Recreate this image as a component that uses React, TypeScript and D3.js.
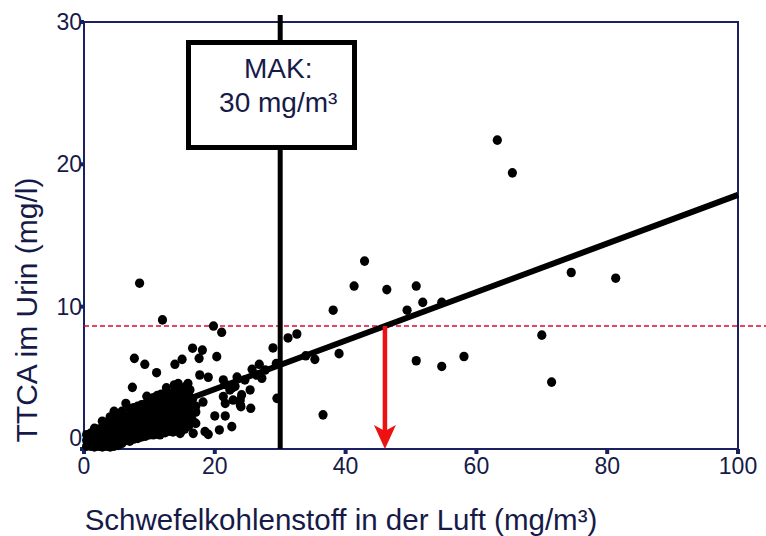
import React from "react";
import * as d3 from "d3";

// Axis ticks
const xTicks = [0, 20, 40, 60, 80, 100];
const yTicks = [0, 10, 20, 30];

// Linear fit of TTCA in urine against CS2 in air
const fitIntercept = 0.79;
const fitSlope = 0.1706;

// Occupational exposure limit (MAK) in mg/m³
const makValue = 30;

// TTCA level reached by the fit line (red reference)
const ttcaReference = 8.64;

// Dense group of low-exposure measurements [CS2 mg/m³, TTCA mg/l]
const denseCluster: [number, number][] = [
  [0.4, 0.2], [0.4, 0.6], [0.4, 1.0],
  [1.0, 0.2], [1.0, 0.6], [1.0, 1.1],
  [1.6, 0.15], [1.6, 0.55], [1.6, 0.95], [1.6, 1.45],
  [2.2, 0.2], [2.2, 0.6], [2.2, 1.0], [2.2, 1.4],
  [2.8, 0.15], [2.8, 0.55], [2.8, 0.95], [2.8, 1.35], [2.8, 1.95],
  [3.4, 0.2], [3.4, 0.6], [3.4, 1.0], [3.4, 1.4], [3.4, 1.85],
  [4.0, 0.15], [4.0, 0.55], [4.0, 0.95], [4.0, 1.4], [4.0, 1.85], [4.0, 2.25],
  [4.6, 0.2], [4.6, 0.6], [4.6, 1.05], [4.6, 1.5], [4.6, 1.95], [4.6, 2.65],
  [5.2, 0.25], [5.2, 0.65], [5.2, 1.1], [5.2, 1.55], [5.2, 2.0], [5.2, 2.45],
  [5.8, 0.4], [5.8, 0.85], [5.8, 1.3], [5.8, 1.75], [5.8, 2.2], [5.8, 2.65],
  [6.4, 0.6], [6.4, 0.95], [6.4, 1.4], [6.4, 1.85], [6.4, 2.3], [6.4, 3.2],
  [7.0, 0.55], [7.0, 1.0], [7.0, 1.45], [7.0, 1.9], [7.0, 2.35], [7.0, 2.85],
  [7.6, 0.7], [7.6, 1.05], [7.6, 1.5], [7.6, 1.95], [7.6, 2.4], [7.6, 2.9],
  [8.2, 0.75], [8.2, 1.2], [8.2, 1.65], [8.2, 2.1], [8.2, 2.55], [8.2, 3.0],
  [8.8, 0.85], [8.8, 1.3], [8.8, 1.75], [8.8, 2.2], [8.8, 2.65], [8.8, 3.1],
  [9.4, 0.9], [9.4, 1.35], [9.4, 1.8], [9.4, 2.25], [9.4, 2.7], [9.4, 3.15], [9.6, 3.7],
  [10.0, 1.0], [10.0, 1.4], [10.0, 1.85], [10.0, 2.3], [10.0, 2.75], [10.0, 3.2],
  [10.6, 1.0], [10.6, 1.45], [10.6, 1.9], [10.6, 2.35], [10.6, 2.8], [10.6, 3.25], [10.6, 3.6],
  [11.2, 1.05], [11.2, 1.5], [11.2, 1.95], [11.2, 2.4], [11.2, 2.85], [11.2, 3.3], [11.2, 3.75],
  [11.8, 1.1], [11.8, 1.55], [11.8, 2.0], [11.8, 2.45], [11.8, 2.9], [11.8, 3.35], [11.8, 3.85],
  [12.4, 1.15], [12.4, 1.6], [12.4, 2.05], [12.4, 2.5], [12.4, 2.95], [12.4, 3.4], [12.6, 4.3],
  [13.0, 1.25], [13.0, 1.65], [13.0, 2.1], [13.0, 2.55], [13.0, 3.0], [13.0, 3.45], [13.0, 3.9],
  [13.6, 1.2], [13.6, 1.7], [13.6, 2.15], [13.6, 2.6], [13.6, 3.05], [13.6, 3.5], [13.6, 3.95], [13.8, 4.5],
  [14.2, 1.3], [14.2, 1.7], [14.2, 2.15], [14.2, 2.6], [14.2, 3.05], [14.2, 3.5], [14.2, 3.95], [14.4, 4.6],
  [14.8, 1.2], [14.8, 1.65], [14.8, 2.1], [14.8, 2.55], [14.8, 3.0], [14.8, 3.45], [14.8, 3.9], [14.8, 4.2],
  [15.4, 1.4], [15.4, 1.7], [15.4, 2.15], [15.4, 2.6], [15.4, 3.05], [15.4, 3.5], [15.4, 3.95], [15.6, 4.4],
  [16.0, 1.6], [16.0, 1.95], [16.0, 2.4], [16.0, 2.85], [16.0, 3.3], [16.0, 3.75],
  [16.6, 2.0], [16.6, 2.5], [16.6, 3.0], [16.6, 3.5],
  [17.1, 2.6], [17.1, 3.0],
];

// Individual measurements outside the dense group
const scatteredPoints: [number, number][] = [
  [8.5, 11.65], [12.0, 9.07], [19.8, 8.64], [21.05, 8.2],
  [7.7, 6.37], [9.3, 5.95], [11.1, 5.36], [7.4, 4.33],
  [13.9, 5.95], [15.0, 6.3], [16.6, 7.08], [18.1, 6.95],
  [17.6, 6.37], [20.3, 6.49], [17.7, 5.2], [19.0, 5.04],
  [21.3, 4.85], [23.4, 5.05], [25.7, 5.6], [26.8, 5.95],
  [27.2, 4.97], [25.4, 4.15], [28.9, 7.1], [29.4, 6.0],
  [29.5, 3.56], [31.2, 7.8], [32.55, 8.08], [33.9, 6.55],
  [35.3, 6.3], [39.0, 6.7], [36.55, 2.4], [38.1, 9.75],
  [41.3, 11.45], [42.9, 13.2], [46.3, 11.2], [50.8, 11.45],
  [51.8, 10.3], [49.4, 9.75], [54.7, 10.3], [50.8, 6.2],
  [54.7, 5.8], [58.1, 6.5], [63.2, 21.7], [65.5, 19.4],
  [70.0, 8.0], [71.5, 4.7], [74.5, 12.4], [81.3, 12.0],
  [22.6, 4.27], [21.3, 3.68], [21.6, 3.2], [22.8, 3.44],
  [23.9, 3.44], [24.0, 2.97], [25.5, 2.86], [20.0, 2.32],
  [21.6, 2.32], [22.6, 1.57], [20.7, 1.34], [18.5, 1.22],
  [19.0, 1.03], [16.7, 1.1], [17.1, 1.8], [16.2, 2.4],
  [15.9, 4.6], [16.2, 4.15], [18.2, 3.3], [22.3, 4.15],
  [24.1, 3.8], [23.9, 3.1], [11.6, 1.0], [14.7, 1.1],
  [21.8, 4.5], [23.1, 4.4], [24.6, 4.85], [26.4, 5.2], [27.7, 5.55],
];

const W = 766;
const H = 536;
const navy = "#1b2160";
const textNavy = "#161a48";
const font = "'Liberation Sans', Arial, Helvetica, sans-serif";

export default function App() {
  const x = d3.scaleLinear().domain([0, 100]).range([84, 738]);
  const y = d3.scaleLinear().domain([0, 30]).range([449, 22]);

  const fit = (v: number) => fitIntercept + fitSlope * v;
  const fitLine = d3
    .line<number>()
    .x((v) => x(v))
    .y((v) => y(fit(v)));

  const arrowX = (ttcaReference - fitIntercept) / fitSlope;
  const ax = x(arrowX);
  const ay0 = y(ttcaReference);
  const ay1 = y(0);
  const headLen = 24;
  const headHalf = 11;

  const points = [...denseCluster, ...scatteredPoints];

  return (
    <svg
      width={W}
      height={H}
      viewBox={`0 0 ${W} ${H}`}
      style={{ position: "absolute", left: 0, top: 0, background: "#fff" }}
    >
      <rect x={0} y={0} width={W} height={H} fill="#fff" />

      {/* plot frame */}
      <rect
        x={x(0)}
        y={y(30)}
        width={x(100) - x(0)}
        height={y(0) - y(30)}
        fill="none"
        stroke={navy}
        strokeWidth={2}
      />

      {/* tick marks */}
      {xTicks.map((t) => (
        <line
          key={`xt${t}`}
          x1={x(t)}
          x2={x(t)}
          y1={y(0)}
          y2={y(0) + 5}
          stroke={navy}
          strokeWidth={4}
        />
      ))}
      {yTicks.map((t) => (
        <line
          key={`yt${t}`}
          x1={x(0) - 4}
          x2={x(0)}
          y1={y(t)}
          y2={y(t)}
          stroke={navy}
          strokeWidth={4}
        />
      ))}

      {/* tick labels */}
      {xTicks.map((t) => (
        <text
          key={`xl${t}`}
          x={x(t)}
          y={474}
          textAnchor="middle"
          fontFamily={font}
          fontSize={23}
          fill={textNavy}
        >
          {t}
        </text>
      ))}
      {yTicks.map((t) => (
        <text
          key={`yl${t}`}
          x={x(0) - 2}
          y={y(t) + 8 - (t === 0 ? 11 : 0)}
          textAnchor="end"
          fontFamily={font}
          fontSize={23}
          fill={textNavy}
        >
          {t}
        </text>
      ))}

      {/* red reference level */}
      <line
        x1={x(0)}
        x2={W}
        y1={y(ttcaReference)}
        y2={y(ttcaReference)}
        stroke="#e0072f"
        strokeWidth={1.5}
        strokeDasharray="5,3"
      />

      {/* measurements */}
      {points.map(([px, py], i) => (
        <ellipse key={i} cx={x(px)} cy={y(py)} rx={4.6} ry={4.8} fill="#000" />
      ))}

      {/* MAK vertical */}
      <line
        x1={x(makValue)}
        x2={x(makValue)}
        y1={y(30) - 7}
        y2={y(0)}
        stroke="#000"
        strokeWidth={5}
      />

      {/* regression line */}
      <path d={fitLine([0, 100]) || ""} stroke="#000" strokeWidth={6} fill="none" />

      {/* red arrow down to the x-axis */}
      <line x1={ax} x2={ax} y1={ay0} y2={ay1 - headLen + 6} stroke="#ee1111" strokeWidth={4.5} />
      <path
        d={`M${ax - headHalf},${ay1 - headLen} L${ax},${ay1 - headLen + 6} L${ax + headHalf},${ay1 - headLen} L${ax},${ay1} Z`}
        fill="#ee1111"
      />

      {/* MAK box */}
      <rect x={188.5} y={42.5} width={166} height={105} fill="#fff" stroke="#000" strokeWidth={5} />
      <text x={x(makValue) - 2} y={78} textAnchor="middle" fontFamily={font} fontSize={28} fill={textNavy}>
        MAK:
      </text>
      <text x={x(makValue) - 2} y={112} textAnchor="middle" fontFamily={font} fontSize={28} fill={textNavy}>
        30 mg/m³
      </text>

      {/* axis titles */}
      <text
        transform={`translate(37,310) rotate(-90)`}
        textAnchor="middle"
        fontFamily={font}
        fontSize={30}
        fill={textNavy}
      >
        TTCA im Urin (mg/l)
      </text>
      <text x={341} y={530} textAnchor="middle" fontFamily={font} fontSize={29.5} fill={textNavy}>
        Schwefelkohlenstoff in der Luft (mg/m³)
      </text>
    </svg>
  );
}
